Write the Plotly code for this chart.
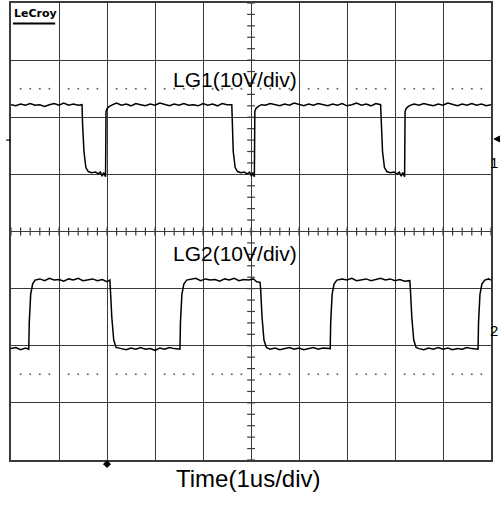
import numpy as np
import plotly.graph_objects as go

# screen units: 10 x 8 divisions, centre at (5, 0); 1 div = 1us (x), 10V (y)

# LG1 trace, vertices (div)
lg1_t = [0.00, 0.10, 0.20, 0.30, 0.40, 0.50, 0.60, 0.70, 0.80, 0.90, 1.00, 1.10, 1.20, 1.30, 1.40, 1.48,
         1.49, 1.52, 1.56, 1.61, 1.68,
         1.76, 1.82, 1.86, 1.90, 1.93, 1.97,
         1.98, 2.00, 2.05, 2.12,
         2.20, 2.30, 2.40, 2.50, 2.60, 2.70, 2.80, 2.90, 3.00, 3.10, 3.20, 3.30, 3.40, 3.50, 3.60, 3.70,
         3.80, 3.90, 4.00, 4.10, 4.20, 4.30, 4.40, 4.50, 4.60,
         4.61, 4.63, 4.67, 4.72, 4.79,
         4.86, 4.92, 4.97, 5.01, 5.04, 5.07,
         5.08, 5.10, 5.15, 5.22,
         5.30, 5.40, 5.50, 5.60, 5.70, 5.80, 5.90, 6.00, 6.10, 6.20, 6.30, 6.40, 6.50, 6.60, 6.70, 6.80,
         6.90, 7.00, 7.10, 7.20, 7.30, 7.40, 7.50, 7.60, 7.70,
         7.71, 7.74, 7.78, 7.83, 7.90,
         7.98, 8.04, 8.09, 8.13, 8.16, 8.20,
         8.21, 8.23, 8.28, 8.35,
         8.40, 8.50, 8.60, 8.70, 8.80, 8.90, 9.00, 9.10, 9.20, 9.30, 9.40, 9.50, 9.60, 9.70, 9.80, 9.90, 10.0]
lg1_v = [2.22, 2.20, 2.23, 2.21, 2.24, 2.21, 2.22, 2.19, 2.22, 2.24, 2.21, 2.25, 2.21, 2.23, 2.21, 2.22,
         1.90, 1.40, 1.12, 1.05, 1.03,
         1.04, 1.01, 1.04, 0.97, 1.03, 0.96,
         2.10, 2.15, 2.19, 2.22,
         2.25, 2.21, 2.23, 2.20, 2.24, 2.22, 2.20, 2.23, 2.21, 2.25, 2.22, 2.20, 2.23, 2.21, 2.24, 2.21,
         2.22, 2.20, 2.24, 2.21, 2.23, 2.20, 2.24, 2.22, 2.22,
         1.90, 1.40, 1.12, 1.05, 1.03,
         1.04, 1.01, 1.04, 0.97, 1.03, 0.96,
         2.10, 2.15, 2.19, 2.22,
         2.21, 2.24, 2.22, 2.20, 2.23, 2.21, 2.25, 2.22, 2.20, 2.23, 2.21, 2.24, 2.22, 2.20, 2.23, 2.21,
         2.24, 2.20, 2.22, 2.25, 2.21, 2.23, 2.20, 2.24, 2.22,
         1.90, 1.40, 1.12, 1.05, 1.03,
         1.04, 1.01, 1.04, 0.97, 1.03, 0.96,
         2.10, 2.15, 2.19, 2.22,
         2.23, 2.21, 2.24, 2.22, 2.20, 2.23, 2.21, 2.25, 2.22, 2.20, 2.23, 2.21, 2.24, 2.21, 2.23, 2.20, 2.22]

# LG2 trace
lg2_t = [0.00, 0.10, 0.20, 0.30, 0.37,
         0.38, 0.41, 0.45, 0.50,
         0.60, 0.70, 0.80, 0.90, 1.00, 1.10, 1.20, 1.30, 1.40, 1.50, 1.60, 1.70, 1.80, 1.90, 2.00, 2.06,
         2.07, 2.10, 2.14, 2.19,
         2.30, 2.40, 2.50, 2.60, 2.70, 2.80, 2.90, 3.00, 3.10, 3.20, 3.30, 3.40, 3.52,
         3.53, 3.56, 3.60, 3.66,
         3.75, 3.85, 3.95, 4.05, 4.15, 4.25, 4.35, 4.45, 4.55, 4.65, 4.75, 4.85, 4.95, 5.05, 5.12, 5.19,
         5.20, 5.23, 5.27, 5.32,
         5.40, 5.50, 5.60, 5.70, 5.80, 5.90, 6.00, 6.10, 6.20, 6.30, 6.40, 6.50, 6.65,
         6.66, 6.69, 6.73, 6.79,
         6.90, 7.00, 7.10, 7.20, 7.30, 7.40, 7.50, 7.60, 7.70, 7.80, 7.90, 8.00, 8.10, 8.20, 8.31,
         8.32, 8.35, 8.39, 8.44,
         8.50, 8.60, 8.70, 8.80, 8.90, 9.00, 9.10, 9.20, 9.30, 9.40, 9.50, 9.60, 9.73,
         9.74, 9.77, 9.81, 9.87,
         9.95, 10.0]
lg2_v = [-2.05, -2.03, -2.07, -2.04, -2.06,
         -1.60, -1.10, -0.92, -0.85,
         -0.83, -0.86, -0.82, -0.85, -0.84, -0.87, -0.83, -0.85, -0.82, -0.86, -0.84, -0.83, -0.86, -0.84, -0.88, -0.85,
         -1.00, -1.50, -1.90, -2.03,
         -2.05, -2.07, -2.04, -2.06, -2.03, -2.06, -2.05, -2.08, -2.04, -2.06, -2.03, -2.05, -2.06,
         -1.60, -1.10, -0.92, -0.85,
         -0.84, -0.82, -0.86, -0.83, -0.85, -0.84, -0.87, -0.83, -0.85, -0.82, -0.86, -0.84, -0.85, -0.83, -0.88, -0.89,
         -1.00, -1.50, -1.90, -2.03,
         -2.06, -2.04, -2.07, -2.05, -2.03, -2.06, -2.04, -2.07, -2.05, -2.03, -2.06, -2.04, -2.05,
         -1.60, -1.10, -0.92, -0.85,
         -0.83, -0.85, -0.82, -0.86, -0.84, -0.83, -0.86, -0.84, -0.82, -0.85, -0.83, -0.86, -0.84, -0.87, -0.86,
         -1.00, -1.50, -1.90, -2.03,
         -2.05, -2.07, -2.04, -2.06, -2.03, -2.06, -2.04, -2.07, -2.05, -2.06, -2.03, -2.05, -2.06,
         -1.60, -1.10, -0.92, -0.85,
         -0.83, -0.85]

ch_labels = ["LG1(10V/div)", "LG2(10V/div)"]
time_label = "Time(1us/div)"
dotted_levels = [2.5, -2.5]

GRID = "#3a3a3a"

fig = go.Figure()

# minor ticks on centre axes
sub = np.arange(-4, 4.01, 0.2)
tx, ty = [], []
for s in sub:
    tx += [4.92, 5.08, None]
    ty += [s, s, None]
sub_x = np.arange(0, 10.01, 0.2)
for s in sub_x:
    tx += [s, s, None]
    ty += [-0.07, 0.07, None]
fig.add_trace(go.Scatter(x=tx, y=ty, mode="lines", line=dict(color=GRID, width=1.2),
                         hoverinfo="skip", showlegend=False))

# dotted reference rows
dx = [s for s in sub_x if abs(s - round(s)) > 0.05]
for lv in dotted_levels:
    fig.add_trace(go.Scatter(x=dx, y=[lv] * len(dx), mode="markers",
                             marker=dict(size=2, color="#666"), hoverinfo="skip", showlegend=False))

for t, v in [(lg1_t, lg1_v), (lg2_t, lg2_v)]:
    fig.add_trace(go.Scatter(x=t, y=v, mode="lines", line=dict(color="black", width=1.5),
                             showlegend=False))

fig.add_annotation(x=4.67, y=2.66, text=ch_labels[0], showarrow=False,
                   font=dict(family="Liberation Sans", size=21, color="black"))
fig.add_annotation(x=4.67, y=-0.38, text=ch_labels[1], showarrow=False,
                   font=dict(family="Liberation Sans", size=21, color="black"))
fig.add_annotation(xref="paper", yref="paper", x=0.494, y=-0.074, text=time_label, showarrow=False,
                   font=dict(family="Liberation Sans", size=24, color="black"))
fig.add_annotation(x=0.03, y=3.82, xanchor="left", text="<b>LeCroy</b>", showarrow=False,
                   font=dict(family="DejaVu Sans", size=11, color="black"))
for lab, yy in [("1", 1.21), ("2", -1.73)]:
    fig.add_annotation(xref="paper", x=1.0, xanchor="right", xshift=8, y=yy, text=lab,
                       showarrow=False, borderpad=0,
                       font=dict(family="Liberation Sans", size=15, color="black"))

fig.add_shape(type="line", x0=0.04, x1=0.92, y0=3.64, y1=3.64, line=dict(color="black", width=2))
fig.add_shape(type="line", xref="paper", yref="paper", x0=-0.01, x1=0, y0=0.70, y1=0.70,
              line=dict(color="black", width=1.2))
# trigger position marker under the grid
fig.add_shape(type="path", xref="paper", yref="paper", fillcolor="black", line=dict(color="black", width=1),
              path="M 0.2,-0.0015 L 0.2073,-0.0088 L 0.2,-0.0165 L 0.1927,-0.0088 Z")
# channel 1 ground arrow on the right
fig.add_shape(type="path", xref="paper", yref="paper", fillcolor="black", line=dict(color="black", width=1),
              path="M 1.0063,0.7024 L 1.0188,0.709 L 1.0188,0.6958 Z")

fig.update_xaxes(range=[0, 10], dtick=1, showgrid=True, gridcolor=GRID, gridwidth=1.2,
                 showline=True, linecolor=GRID, linewidth=1.5, mirror=True,
                 showticklabels=False, zeroline=False, ticks="")
fig.update_yaxes(range=[-4, 4], dtick=1, showgrid=True, gridcolor=GRID, gridwidth=1.2,
                 showline=True, linecolor=GRID, linewidth=1.5, mirror=True,
                 showticklabels=False, zeroline=False, ticks="")

fig.update_layout(width=500, height=513, margin=dict(l=11, r=9, t=3, b=53, autoexpand=False),
                  plot_bgcolor="white", paper_bgcolor="white")

# page body has a default 8px margin; drop it so the figure sits at the window corner
fig.write_html("out.html", config={"displayModeBar": False},
               post_script="document.body.style.margin='0';")
